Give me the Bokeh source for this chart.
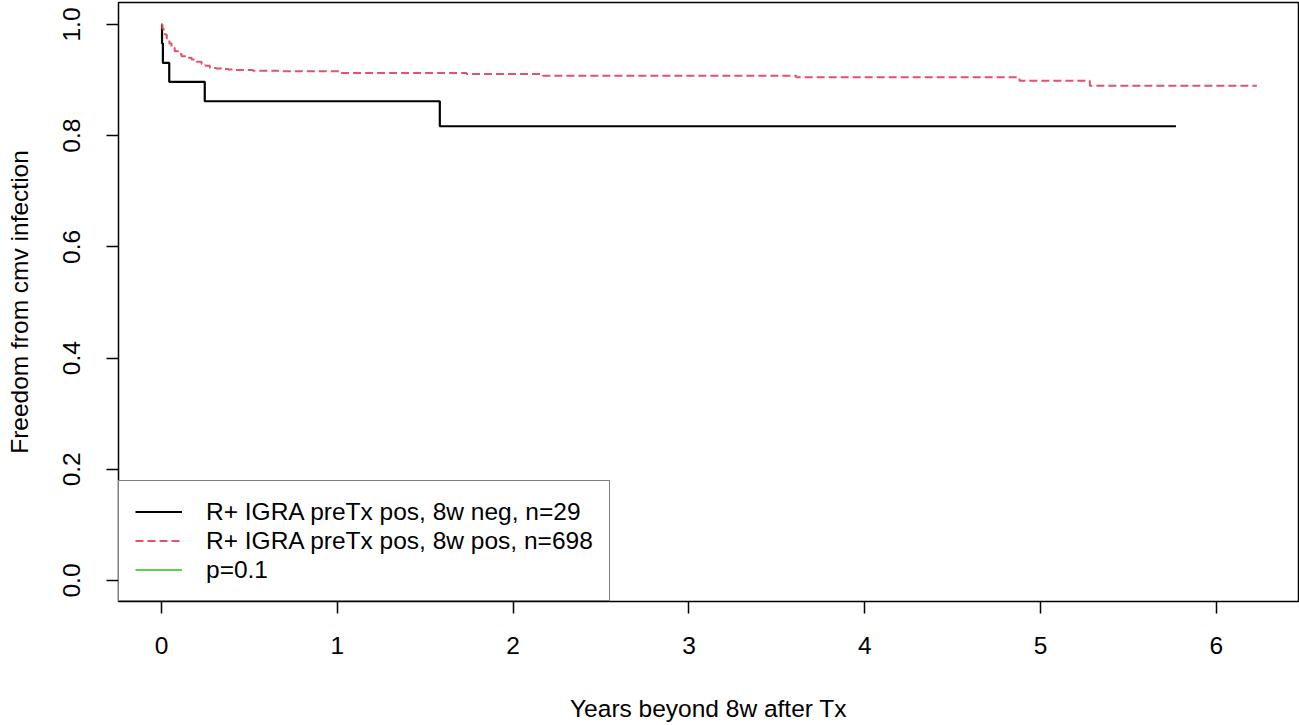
from bokeh.plotting import figure
from bokeh.models import Range1d, FixedTicker, Legend, LegendItem
from bokeh.embed import file_html
from bokeh.resources import INLINE

# Kaplan-Meier estimates
neg_t = [0.0, 0.003, 0.008, 0.044, 0.246, 1.583, 5.77]
neg_s = [1.0, 0.966, 0.931, 0.897, 0.862, 0.817, 0.817]

pos_t = [0.0, 0.005, 0.012, 0.019, 0.03, 0.045, 0.057, 0.075, 0.095, 0.114,
         0.14, 0.171, 0.2, 0.228, 0.25, 0.275, 0.31, 0.341, 0.38, 0.415,
         0.52, 0.664, 1.02, 1.735, 2.17, 3.61, 4.88, 5.28, 6.23]
pos_s = [1.0, 0.993, 0.987, 0.982, 0.975, 0.966, 0.958, 0.952, 0.947, 0.943,
         0.940, 0.937, 0.933, 0.929, 0.926, 0.922, 0.921, 0.920, 0.919, 0.918,
         0.917, 0.916, 0.913, 0.911, 0.908, 0.905, 0.899, 0.890, 0.890]

x_ticks = [0, 1, 2, 3, 4, 5, 6]
y_ticks = [0.0, 0.2, 0.4, 0.6, 0.8, 1.0]
labels = ["R+ IGRA preTx pos, 8w neg, n=29",
          "R+ IGRA preTx pos, 8w pos, n=698",
          "p=0.1"]

FONT = "Liberation Sans"
FS = "24.5px"

p = figure(width=1299, height=725, output_backend="svg", toolbar_location=None,
           x_range=Range1d(-0.2446, 6.467), y_range=Range1d(-0.0378, 1.0396),
           min_border_left=118, min_border_right=1, min_border_top=2,
           min_border_bottom=124)
p.background_fill_color = "white"
p.border_fill_color = "white"
p.outline_line_color = "black"
p.outline_line_width = 1.5
p.xgrid.visible = False
p.ygrid.visible = False

r_neg = p.step(neg_t, neg_s, mode="after", line_color="black", line_width=2.2)
r_pos = p.step(pos_t, pos_s, mode="after", line_color="#DF536B", line_width=2,
               line_dash="8 4")
# legend-only entry for the log-rank p value (no data drawn)
r_p = p.line(x=[float("nan")], y=[float("nan")], line_color="#61D04F",
             line_width=2)

for ax in (p.xaxis[0], p.yaxis[0]):
    ax.axis_line_color = None
    ax.major_tick_line_color = "black"
    ax.major_tick_line_width = 1.5
    ax.major_tick_out = 12
    ax.major_tick_in = 0
    ax.minor_tick_line_color = None
    ax.major_label_text_font = FONT
    ax.major_label_text_font_size = FS
    ax.major_label_text_color = "black"
    ax.axis_label_text_font = FONT
    ax.axis_label_text_font_size = FS
    ax.axis_label_text_font_style = "normal"
    ax.axis_label_text_color = "black"

p.xaxis[0].ticker = FixedTicker(ticks=x_ticks)
p.xaxis[0].major_label_overrides = {t: str(t) for t in x_ticks}
p.xaxis[0].major_label_standoff = 23
p.xaxis[0].axis_label = "Years beyond 8w after Tx"
p.xaxis[0].axis_label_standoff = 38

p.yaxis[0].ticker = FixedTicker(ticks=y_ticks)
p.yaxis[0].major_label_overrides = {t: f"{t:.1f}" for t in y_ticks}
p.yaxis[0].major_label_orientation = "vertical"
p.yaxis[0].major_label_standoff = 26
p.yaxis[0].axis_label = "Freedom from cmv infection"
p.yaxis[0].axis_label_standoff = 28

legend = Legend(items=[LegendItem(label=labels[0], renderers=[r_neg]),
                       LegendItem(label=labels[1], renderers=[r_pos]),
                       LegendItem(label=labels[2], renderers=[r_p])],
                location="bottom_left", margin=0, padding=16, spacing=0,
                glyph_width=47, glyph_height=29, label_height=29,
                label_standoff=24, label_text_font=FONT,
                label_text_font_size=FS, label_text_color="black",
                border_line_color="black", border_line_width=1.5,
                background_fill_color="white", background_fill_alpha=1.0)
p.add_layout(legend, "center")

open("out.html", "w").write(file_html(p, INLINE))
